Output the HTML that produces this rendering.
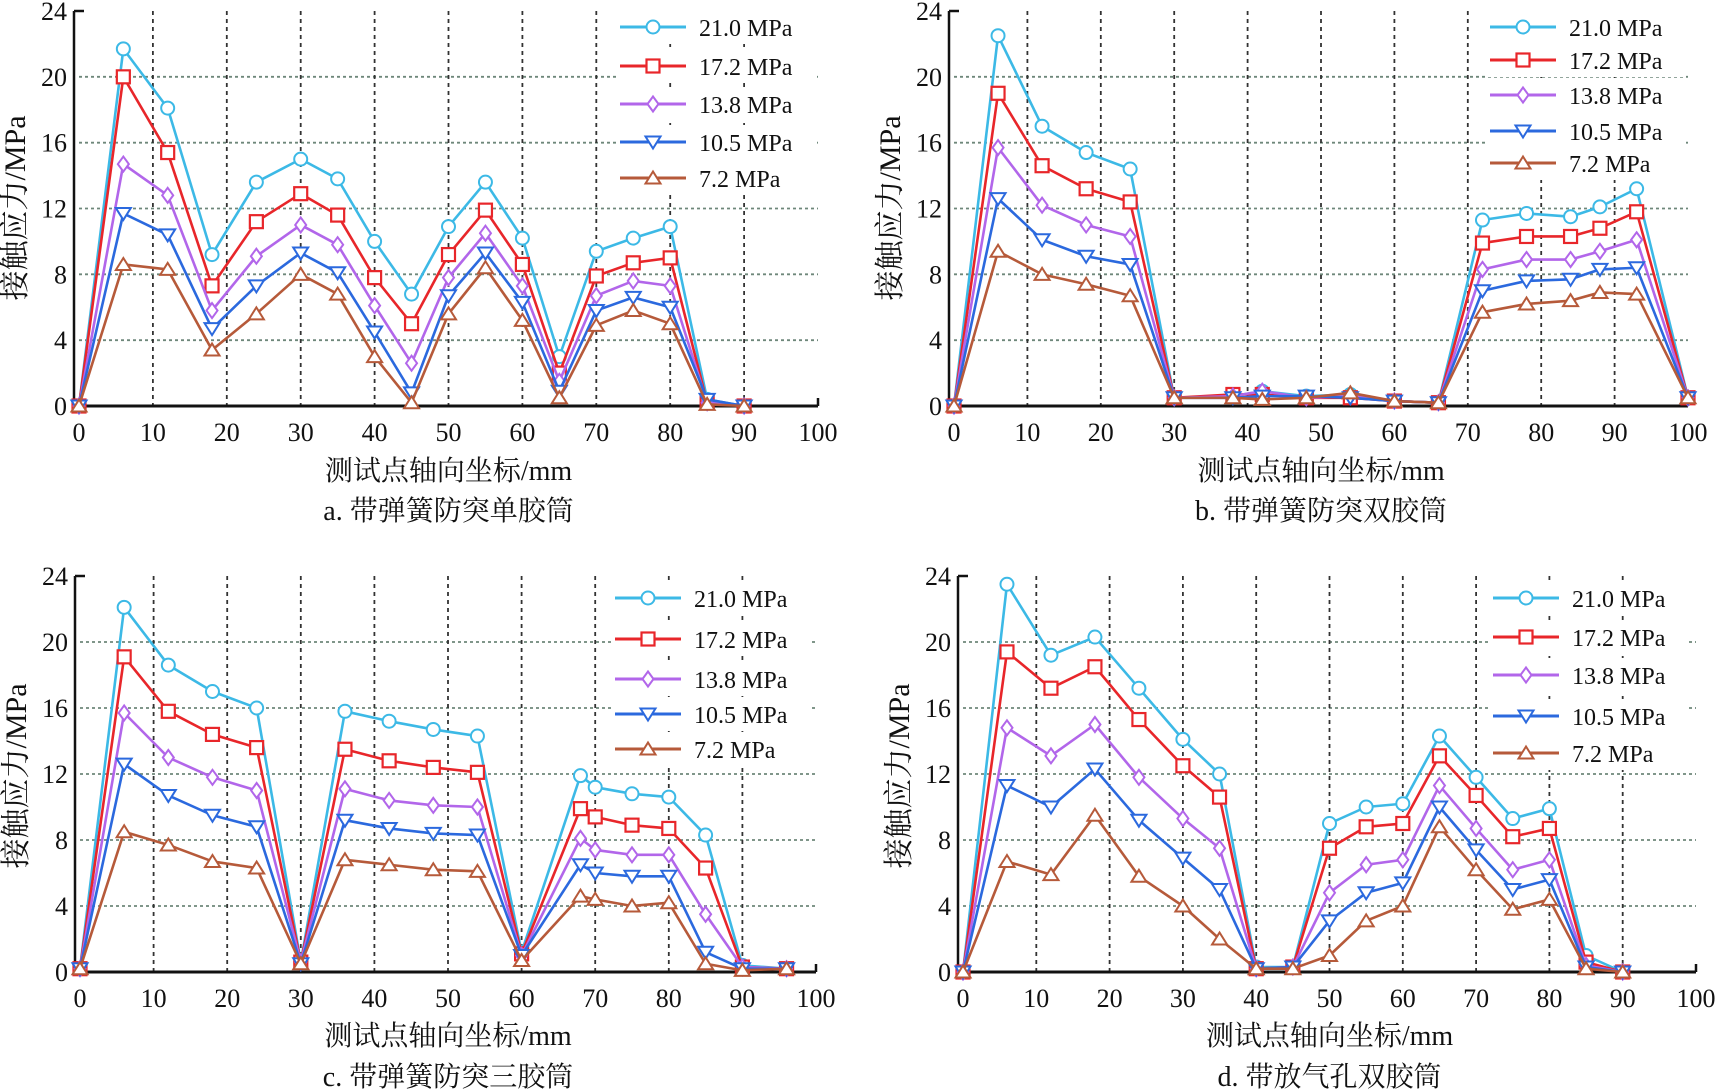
<!DOCTYPE html>
<html><head><meta charset="utf-8">
<style>
html,body{margin:0;padding:0;background:#fff;}
svg{display:block;}
text{font-family:"Liberation Serif","Noto Serif CJK SC",serif;fill:#111;}
</style></head>
<body>
<svg id="chart" width="1722" height="1091" viewBox="0 0 1722 1091" xmlns="http://www.w3.org/2000/svg"></svg>
<script>
const seriesLabels = ["21.0 MPa","17.2 MPa","13.8 MPa","10.5 MPa","7.2 MPa"];
const seriesColors = ["#3cb9e6","#e8262a","#b266ea","#2b69de","#b65a3a"];
const seriesMarkers = ["circle","square","diamond","tri-down","tri-up"];
const yTicks = [0,4,8,12,16,20,24];
const xTicks = [0,10,20,30,40,50,60,70,80,90,100];

const xA = [0,6,12,18,24,30,35,40,45,50,55,60,65,70,75,80,85,90];
const a210 = [0,21.7,18.1,9.2,13.6,15.0,13.8,10.0,6.8,10.9,13.6,10.2,3.0,9.4,10.2,10.9,0.4,0];
const a172 = [0,20.0,15.4,7.3,11.2,12.9,11.6,7.8,5.0,9.2,11.9,8.6,2.0,7.9,8.7,9.0,0.2,0];
const a138 = [0,14.7,12.8,5.8,9.1,11.0,9.8,6.1,2.6,7.8,10.5,7.3,1.5,6.7,7.6,7.3,0.2,0];
const a105 = [0,11.7,10.4,4.7,7.3,9.3,8.1,4.5,0.8,6.7,9.3,6.3,0.9,5.8,6.6,6.0,0.4,0];
const a72  = [0,8.6,8.3,3.4,5.6,8.0,6.8,3.0,0.2,5.6,8.4,5.2,0.5,4.9,5.8,5.0,0.1,0];

const xB = [0,6,12,18,24,30,38,42,48,54,60,66,72,78,84,88,93,100];
const b210 = [0,22.5,17.0,15.4,14.4,0.5,0.6,0.9,0.6,0.7,0.3,0.2,11.3,11.7,11.5,12.1,13.2,0.5];
const b172 = [0,19.0,14.6,13.2,12.4,0.5,0.7,0.7,0.5,0.5,0.3,0.2,9.9,10.3,10.3,10.8,11.8,0.5];
const b138 = [0,15.7,12.2,11.0,10.3,0.5,0.6,0.9,0.5,0.6,0.3,0.2,8.3,8.9,8.9,9.4,10.1,0.5];
const b105 = [0,12.6,10.1,9.1,8.6,0.5,0.5,0.6,0.6,0.5,0.3,0.2,7.0,7.6,7.7,8.3,8.4,0.5];
const b72  = [0,9.4,8.0,7.4,6.7,0.5,0.5,0.4,0.5,0.8,0.3,0.2,5.7,6.2,6.4,6.9,6.8,0.5];

const xC = [0,6,12,18,24,30,36,42,48,54,60,68,70,75,80,85,90,96];
const c210 = [0.2,22.1,18.6,17.0,16.0,0.6,15.8,15.2,14.7,14.3,1.2,11.9,11.2,10.8,10.6,8.3,0.4,0.2];
const c172 = [0.2,19.1,15.8,14.4,13.6,0.6,13.5,12.8,12.4,12.1,1.1,9.9,9.4,8.9,8.7,6.3,0.3,0.2];
const c138 = [0.2,15.7,13.0,11.8,11.0,0.6,11.1,10.4,10.1,10.0,1.0,8.1,7.4,7.1,7.1,3.5,0.3,0.2];
const c105 = [0.2,12.6,10.7,9.5,8.8,0.5,9.2,8.7,8.4,8.3,1.0,6.5,6.0,5.8,5.8,1.2,0.2,0.2];
const c72  = [0.2,8.5,7.7,6.7,6.3,0.5,6.8,6.5,6.2,6.1,0.7,4.6,4.4,4.0,4.2,0.5,0.1,0.2];

const xD = [0,6,12,18,24,30,35,40,45,50,55,60,65,70,75,80,85,90];
const d210 = [0,23.5,19.2,20.3,17.2,14.1,12.0,0.3,0.3,9.0,10.0,10.2,14.3,11.8,9.3,9.9,1.0,0];
const d172 = [0,19.4,17.2,18.5,15.3,12.5,10.6,0.2,0.3,7.5,8.8,9.0,13.1,10.7,8.2,8.7,0.6,0];
const d138 = [0,14.8,13.1,15.0,11.8,9.3,7.5,0.2,0.3,4.8,6.5,6.8,11.3,8.7,6.2,6.8,0.4,0];
const d105 = [0,11.3,10.0,12.3,9.2,6.9,5.0,0.2,0.3,3.1,4.8,5.4,10.0,7.4,5.0,5.6,0.3,0];
const d72  = [0,6.7,5.9,9.5,5.8,4.0,2.0,0.2,0.2,1.0,3.1,4.0,8.8,6.2,3.8,4.4,0.2,0];

const NS = "http://www.w3.org/2000/svg";
const svg = document.getElementById("chart");
function mk(tag, attrs, parent){
  const e = document.createElementNS(NS, tag);
  for (const k in attrs) e.setAttribute(k, attrs[k]);
  (parent||svg).appendChild(e);
  return e;
}
function marker(g, type, cx, cy, color){
  let e;
  const s = 6.5;
  if (type==="circle") e = mk("circle",{cx:cx,cy:cy,r:s,fill:"#fff",stroke:color,"stroke-width":2},g);
  else if (type==="square") e = mk("rect",{x:cx-s,y:cy-s,width:2*s,height:2*s,fill:"#fff",stroke:color,"stroke-width":2.2},g);
  else if (type==="diamond") e = mk("polygon",{points:`${cx},${cy-s-1} ${cx+s-1},${cy} ${cx},${cy+s+1} ${cx-s+1},${cy}`,fill:"#fff",stroke:color,"stroke-width":2},g);
  else if (type==="tri-down") e = mk("polygon",{points:`${cx-s-1},${cy-s+1} ${cx+s+1},${cy-s+1} ${cx},${cy+s}`,fill:"#fff",stroke:color,"stroke-width":2},g);
  else e = mk("polygon",{points:`${cx-s-1},${cy+s-1} ${cx+s+1},${cy+s-1} ${cx},${cy-s}`,fill:"#fff",stroke:color,"stroke-width":2},g);
  
  
}

const panels = [
  {id:"a", x0:79, x1:818, y0:406, y1:11, xs:xA, ys:[a210,a172,a138,a105,a72], lx:620, ly:[27,66,104,142,178], ytitleY:208, xtitle:480, cap:520, caption:"a. 带弹簧防突单胶筒"},
  {id:"b", x0:954, x1:1688, y0:406, y1:11, xs:xB, ys:[b210,b172,b138,b105,b72], lx:1490, ly:[27,60,95,131,163], ytitleY:208, xtitle:480, cap:520, caption:"b. 带弹簧防突双胶筒"},
  {id:"c", x0:80, x1:816, y0:972, y1:576, xs:xC, ys:[c210,c172,c138,c105,c72], lx:615, ly:[598,639,679,714,749], ytitleY:776, xtitle:1045, cap:1086, caption:"c. 带弹簧防突三胶筒"},
  {id:"d", x0:963, x1:1696, y0:972, y1:576, xs:xD, ys:[d210,d172,d138,d105,d72], lx:1493, ly:[598,637,675,716,753], ytitleY:776, xtitle:1045, cap:1086, caption:"d. 带放气孔双胶筒"}
];

panels.forEach(p=>{
  const g = mk("g",{});
  
  
  const X = v => p.x0 + (v/100)*(p.x1-p.x0);
  const Y = v => p.y0 - (v/24)*(p.y0-p.y1);
  yTicks.forEach(t=>{
    if (t>0 && t<24){
      const l = mk("line",{x1:p.x0,x2:p.x1,y1:Y(t),y2:Y(t),stroke:"#4a6a5a","stroke-width":1.8,"stroke-dasharray":"3,3",opacity:0.8},g);
      
      
    }
  });
  xTicks.forEach(t=>{
    if (t>0 && t<100){
      const l = mk("line",{x1:X(t),x2:X(t),y1:p.y1,y2:p.y0,stroke:"#333","stroke-width":1.8,"stroke-dasharray":"4,4"},g);
      
      
    }
  });
  const ya = mk("line",{x1:p.x0-5,x2:p.x0-5,y1:p.y1,y2:p.y0,stroke:"#111","stroke-width":2.5},g);
  
  
  const xa = mk("line",{x1:p.x0-5,x2:p.x1,y1:p.y0,y2:p.y0,stroke:"#111","stroke-width":3},g);
  
  
  mk("line",{x1:p.x0-5,x2:p.x0+5,y1:p.y1,y2:p.y1,stroke:"#111","stroke-width":2.5},g);
  mk("line",{x1:p.x1,x2:p.x1,y1:p.y0-8,y2:p.y0,stroke:"#111","stroke-width":2.5},g);
  yTicks.forEach(t=>{
    const tx = mk("text",{x:p.x0-12,y:Y(t)+9,"text-anchor":"end","font-size":26},g);
    tx.textContent = t;
    
    
  });
  xTicks.forEach(t=>{
    const tx = mk("text",{x:X(t),y:p.y0+35,"text-anchor":"middle","font-size":26},g);
    tx.textContent = t;
    
    
  });
  const yt = mk("text",{x:0,y:0,"text-anchor":"middle","font-size":30,transform:`translate(${p.x0-54},${p.ytitleY}) rotate(-90)`},g);
  yt.textContent = "接触应力/MPa";
  
  
  const xt = mk("text",{x:(p.x0+p.x1)/2,y:p.xtitle,"text-anchor":"middle","font-size":28},g);
  xt.textContent = "测试点轴向坐标/mm";
  
  
  const cp = mk("text",{x:(p.x0+p.x1)/2,y:p.cap,"text-anchor":"middle","font-size":28},g);
  cp.textContent = p.caption;
  
  
  p.ys.forEach((vals,si)=>{
    const sg = mk("g",{},g);
    
    
    const pts = vals.map((v,i)=>`${X(p.xs[i])},${Y(v)}`).join(" ");
    const pl = mk("polyline",{points:pts,fill:"none",stroke:seriesColors[si],"stroke-width":2.6,"stroke-linejoin":"round"},sg);
    
    
    vals.forEach((v,i)=>marker(sg, seriesMarkers[si], X(p.xs[i]), Y(v), seriesColors[si]));
  });
  const lg = mk("g",{},g);
  
  
  seriesLabels.forEach((lab,si)=>{
    const y = p.ly[si];
    const eg = mk("g",{},lg);
    
    
    mk("rect",{x:p.lx-4,y:y-17,width:200,height:34,fill:"#fff"},eg);
    mk("line",{x1:p.lx,x2:p.lx+66,y1:y,y2:y,stroke:seriesColors[si],"stroke-width":3},eg);
    marker(eg, seriesMarkers[si], p.lx+33, y, seriesColors[si]);
    const t = mk("text",{x:p.lx+79,y:y+9,"font-size":24},eg);
    t.textContent = lab;
  });
});
</script>
</body></html>
